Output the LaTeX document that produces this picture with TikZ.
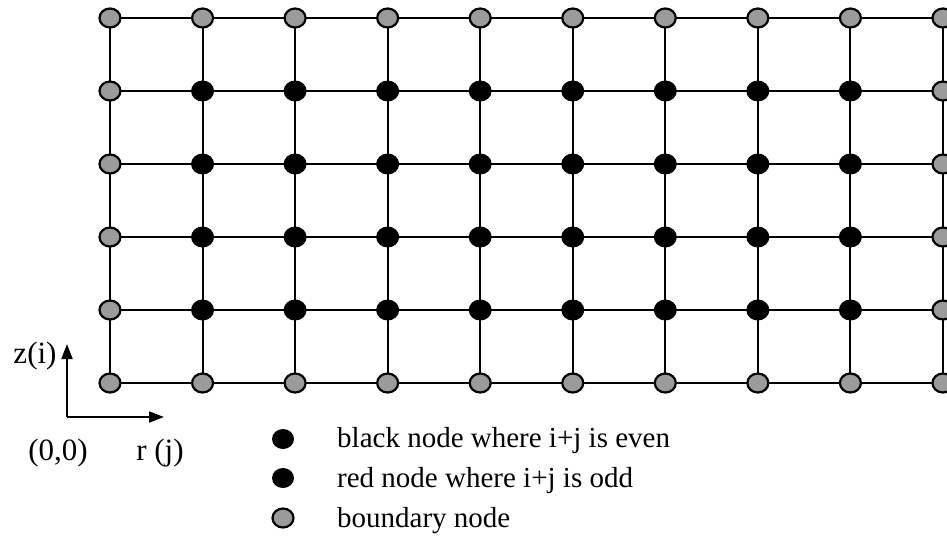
\documentclass[tikz,border=0pt]{standalone}
\usepackage{fontspec}
\setmainfont{Liberation Serif}
\usetikzlibrary{shapes.geometric,arrows.meta,backgrounds}
\definecolor{bndgray}{RGB}{155,155,155}
\begin{document}
\begin{tikzpicture}[x=1pt,y=-1pt,
  bnode/.style={ellipse,draw=black,line width=2.2pt,fill=bndgray,minimum width=21pt,minimum height=19pt,inner sep=0pt},
  inode/.style={ellipse,fill=black,minimum width=23pt,minimum height=21pt,inner sep=0pt},
  gridline/.style={line width=2pt},
  axisline/.style={line width=2pt,-{Triangle[length=15pt,width=11pt]}},
  axlbl/.style={font=\fontsize{31}{34}\selectfont,inner sep=0pt,anchor=base},
  leglbl/.style={font=\fontsize{29}{32}\selectfont,inner sep=0pt,anchor=base west}
]
\useasboundingbox (0,0) rectangle (947,544);

% grid nodes
\foreach \i in {0,...,5}{
  \foreach \j in {0,...,9}{
    \pgfmathtruncatemacro{\isb}{(\i==0)||(\i==5)||(\j==0)||(\j==9)}
    \ifnum\isb=1
      \node[bnode] (n-\i-\j) at ({110+92.55*\j},{383-73*\i}) {};
    \else
      \node[inode] (n-\i-\j) at ({110+92.55*\j},{383-73*\i}) {};
    \fi
  }
}

% grid lines
\begin{scope}[on background layer]
  \foreach \i in {0,...,5}
    \draw[gridline] (n-\i-0.center) -- (n-\i-9.center);
  \foreach \j in {0,...,9}
    \draw[gridline] (n-0-\j.center) -- (n-5-\j.center);
\end{scope}

% axes
\coordinate (orig) at (67,417);
\coordinate (zt) at (67,344);
\coordinate (rt) at (164,417);
\draw[axisline] (orig) -- (zt);
\draw[axisline] (orig) -- (rt);
\node[axlbl] (zlbl) at (35,363) {z(i)};
\node[axlbl] (olbl) at (58,460) {(0,0)};
\node[axlbl] (rlbl) at (160,460) {r (j)};

% legend
\node[inode,minimum width=22pt,minimum height=20pt] (leg1) at (283,439) {};
\node[inode,minimum width=22pt,minimum height=20pt] (leg2) at (283,478) {};
\node[bnode] (leg3) at (283,518) {};
\node[leglbl] (t1) at (337,447) {black node where i+j is even};
\node[leglbl] (t2) at (337,487) {red node where i+j is odd};
\node[leglbl] (t3) at (337,527) {boundary node};
\end{tikzpicture}
\end{document}
